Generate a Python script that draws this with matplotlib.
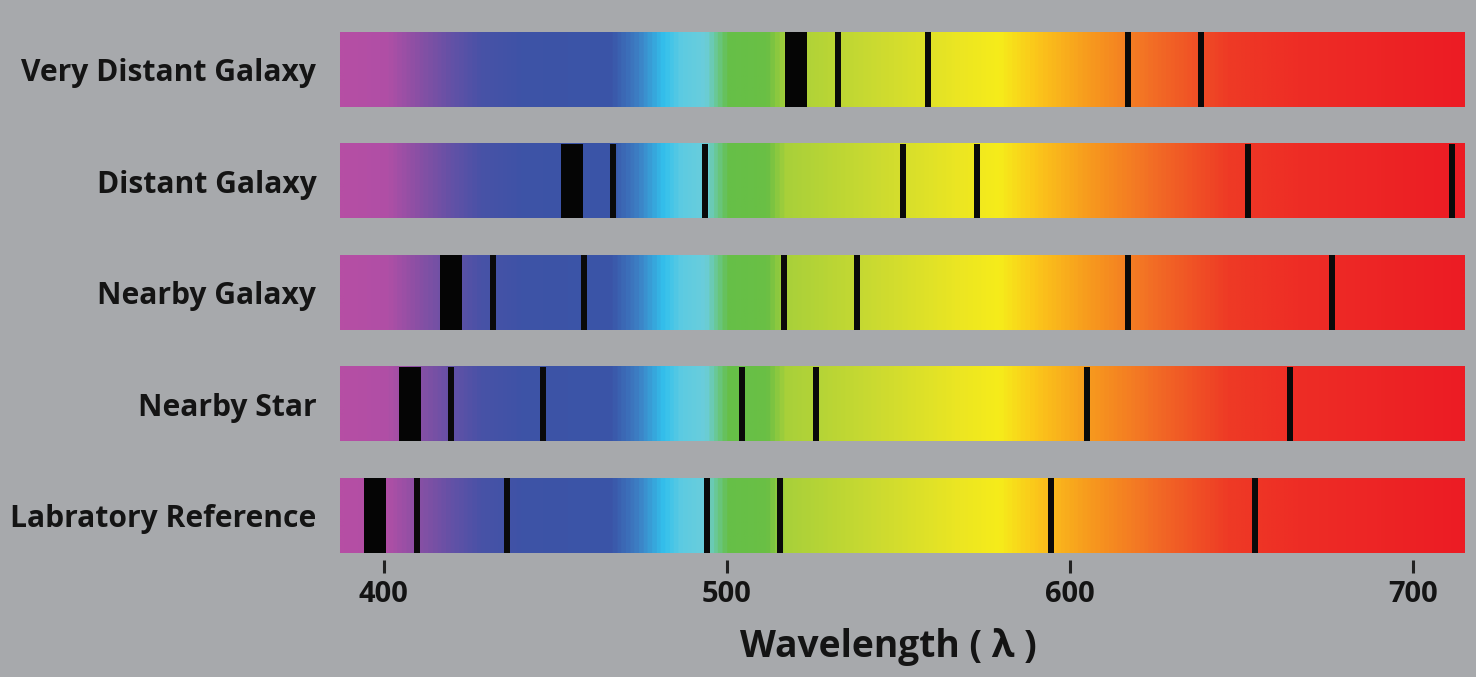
import numpy as np
import matplotlib
matplotlib.use("Agg")
import matplotlib.pyplot as plt
from matplotlib.colors import LinearSegmentedColormap

plt.rcParams['font.family'] = ['Open Sans', 'DejaVu Sans']

# ---------------- data ----------------
categories = ["Very Distant Galaxy", "Distant Galaxy", "Nearby Galaxy",
              "Nearby Star", "Labratory Reference"]
# strong (broad) absorption feature per spectrum, nm
strong_lines = [520.1, 454.8, 419.7, 407.7, 397.4]
# narrow absorption lines per spectrum, nm
weak_lines = [
    [532.4, 558.7, 617.0, 638.3],
    [466.9, 493.6, 551.5, 572.9, 652.0, 711.4],
    [431.8, 458.5, 516.6, 538.1, 617.1, 676.4],
    [419.7, 446.4, 504.6, 525.9, 605.1, 664.3],
    [409.6, 436.0, 494.3, 515.6, 594.6, 653.9],
]
spectrum_range = (387.3, 715.2)
x_ticks = [400, 500, 600, 700]
x_label = "Wavelength ( λ )"

# spectrum colour stops (wavelength, colour)
grad_wl = [387.3, 400.4, 410.6, 419.4, 428.1, 439.8, 466.0, 473.9, 481.5,
           486.4, 493.7, 497.2, 500.1, 511.8, 517.0, 544.7, 568.0, 579.7,
           591.4, 606.0, 626.4, 646.8, 667.2, 715.2]
grad_col = ["#b64ea4", "#b04fa6", "#8550a4", "#6351a6", "#4852a7", "#3e53a6",
            "#3a55a8", "#3d7fc4", "#33c0ec", "#5ccbe2", "#6bcddb", "#69c78a",
            "#66bf48", "#6abf45", "#a8d03a", "#cddb30", "#ece622", "#f6ec1a",
            "#fbc31b", "#f79a1e", "#f26926", "#ee3a25", "#ee2d26", "#ec1c24"]

# ---------------- style ----------------
BG = "#a7a9ac"
TXT = "#141414"
BAR_HALF = 0.336
STRONG_W = 6.4
WEAK_W = 1.75

W, H = 1476, 677
fig = plt.figure(figsize=(W / 100, H / 100), dpi=100, facecolor=BG)
ax_left, ax_right = 340 / W, 1465 / W
ax_top, ax_bot = 13.75, 560.1
ax = fig.add_axes([ax_left, 1 - ax_bot / H, ax_right - ax_left, (ax_bot - ax_top) / H])
ax.set_facecolor(BG)

lo, hi = spectrum_range
pos = [(w - lo) / (hi - lo) for w in grad_wl]
cmap = LinearSegmentedColormap.from_list("spec", list(zip(pos, grad_col)))
grad = np.linspace(0, 1, 1200)[None, :]

n = len(categories)
for i, name in enumerate(categories):
    y = n - 1 - i
    ax.imshow(grad, cmap=cmap, aspect='auto', interpolation='bilinear',
              extent=[lo, hi, y - BAR_HALF, y + BAR_HALF], zorder=1)
    ax.bar([strong_lines[i]], 2 * BAR_HALF, bottom=y - BAR_HALF, width=STRONG_W,
           color="#050505", linewidth=0, zorder=2)
    ax.bar(weak_lines[i], 2 * BAR_HALF, bottom=y - BAR_HALF, width=WEAK_W,
           color="#0a0a0a", linewidth=0, zorder=2)

ax.set_xlim(lo, hi)
ax.set_ylim(-0.4, 4.5)
ax.set_yticks(range(n))
ax.set_yticklabels(categories[::-1])
ax.set_xticks(x_ticks)
ax.set_xticklabels([str(t) for t in x_ticks])
for s in ax.spines.values():
    s.set_visible(False)

ax.tick_params(axis='y', length=0, pad=17, labelsize=21.6, labelcolor=TXT)
ax.tick_params(axis='x', length=9.4, width=2.2, pad=5, direction='out',
               color="#222222", labelsize=21, labelcolor=TXT)
for lab in ax.get_xticklabels() + ax.get_yticklabels():
    lab.set_fontweight('bold')

ax.set_xlabel(x_label, fontsize=26.7, fontweight='bold', color=TXT)
ax.xaxis.label.set_va('baseline')
ax.xaxis.set_label_coords((888 - 340) / 1125, (ax_bot - 657) / (ax_bot - ax_top))

fig.savefig("out.png", dpi=100, facecolor=BG)
